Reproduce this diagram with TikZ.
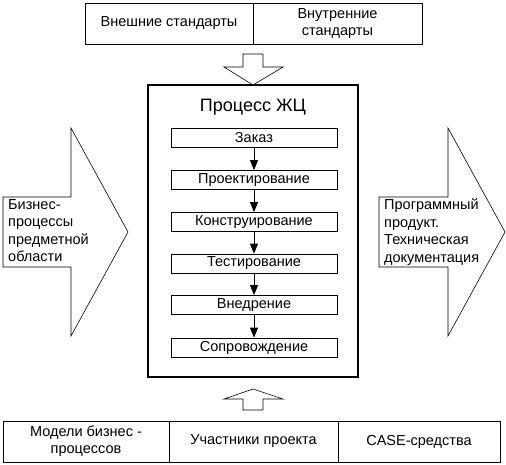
\documentclass[tikz,border=0pt]{standalone}
\usepackage{fontspec}
\setmainfont{Liberation Sans}
\usetikzlibrary{arrows.meta}
\begin{document}
\begin{tikzpicture}[x=1pt,y=-1pt,
  cell/.style={draw,line width=0.8pt,minimum height=41pt,inner sep=1pt,align=center,font=\fontsize{14.5}{17}\selectfont},
  stepbox/.style={draw,line width=0.8pt,minimum width=166pt,minimum height=19pt,inner sep=0pt,font=\fontsize{14.5}{16}\selectfont},
  flow/.style={line width=0.8pt,-{Triangle[width=8pt,length=10pt]}},
  bigarrow/.style={draw,line width=0.6pt,line join=miter},
  side/.style={align=left,inner sep=0pt,font=\fontsize{14.5}{17.5}\selectfont}]
\useasboundingbox (0,0) rectangle (506,464);
% top boxes
\node[cell,minimum width=168pt] (ext) at (169,23.5) {Внешние стандарты};
\node[cell,minimum width=169pt] (int) at (337.5,23.5) {Внутренние\\стандарты};
% down arrow
\draw[bigarrow] (243,54) -- (263,54) -- (263,67) -- (283,67) -- (253,85) -- (224,67) -- (243,67) -- cycle;
% main box
\node[draw,line width=2pt,minimum width=210pt,minimum height=292pt,inner sep=0pt] (main) at (253,231) {};
\node[font=\fontsize{18}{20}\selectfont] (title) at (253,107) {Процесс ЖЦ};
\node[stepbox] (s1) at (254,138) {Заказ};
\node[stepbox] (s2) at (254,180) {Проектирование};
\node[stepbox] (s3) at (254,222) {Конструирование};
\node[stepbox] (s4) at (254,263.5) {Тестирование};
\node[stepbox] (s5) at (254,305) {Внедрение};
\node[stepbox] (s6) at (254,347.5) {Сопровождение};
\draw[flow] (s1) -- (s2);
\draw[flow] (s2) -- (s3);
\draw[flow] (s3) -- (s4);
\draw[flow] (s4) -- (s5);
\draw[flow] (s5) -- (s6);
% left arrow
\draw[bigarrow] (3,197) -- (71,197) -- (71,128) -- (128,232) -- (71,336) -- (71,267) -- (3,267) -- cycle;
\node[side,anchor=north west] (lt) at (8,199) {Бизнес-\\процессы\\предметной\\области};
% right arrow
\draw[bigarrow] (379,197) -- (448,197) -- (448,128) -- (505,232) -- (448,336) -- (448,267) -- (379,267) -- cycle;
\node[side,anchor=north west] (rt) at (384,199) {Программный\\продукт.\\Техническая\\документация};
% up arrow
\draw[bigarrow] (243,410) -- (263,410) -- (263,399) -- (283,399) -- (253,389) -- (224,399) -- (243,399) -- cycle;
% bottom boxes
\node[cell,minimum width=166pt] (b1) at (86,441.5) {Модели бизнес -\\процессов};
\node[cell,minimum width=169pt] (b2) at (253.5,441.5) {Участники проекта};
\node[cell,minimum width=162pt] (b3) at (419,441.5) {CASE-средства};
\end{tikzpicture}
\end{document}
